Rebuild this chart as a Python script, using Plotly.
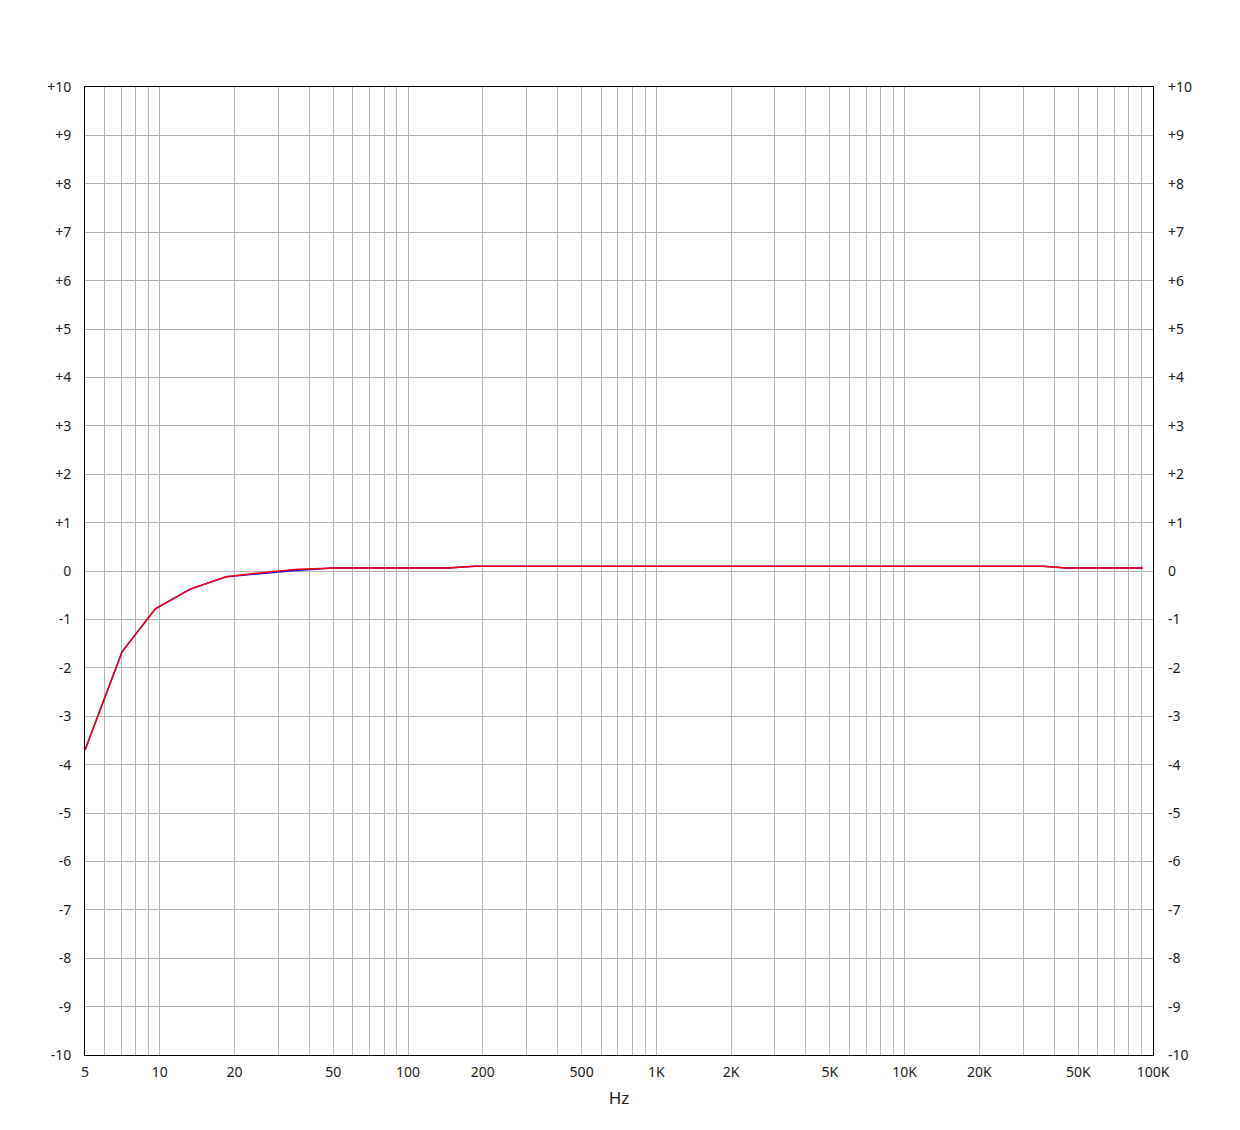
import plotly.graph_objects as go

# response (Hz, dB)
freq_blue = [5, 7.05, 9.6, 13.2, 18.5, 25, 35, 50, 145, 185, 36000, 45000, 91000]
level_blue = [-3.70, -1.67, -0.78, -0.38, -0.12, -0.06, 0.01, 0.06, 0.06, 0.10, 0.10, 0.06, 0.06]

freq_red = [5, 7.05, 9.6, 13.2, 18.5, 25, 35, 50, 145, 185, 36000, 45000, 91000]
level_red = [-3.70, -1.67, -0.78, -0.38, -0.12, -0.04, 0.03, 0.06, 0.06, 0.10, 0.10, 0.06, 0.06]

# grid / tick positions
grid_steps = [1, 2, 3, 4, 5, 6, 7, 8, 9]
decades = [1, 10, 100, 1000, 10000]
x_labels = {5: '5', 10: '10', 20: '20', 50: '50', 100: '100', 200: '200', 500: '500',
            1000: '1K', 2000: '2K', 5000: '5K', 10000: '10K', 20000: '20K',
            50000: '50K', 100000: '100K'}
y_ticks = list(range(-10, 11))

x_vals = [s * d for d in decades for s in grid_steps if 5 <= s * d <= 100000] + [100000]
x_text = [x_labels.get(v, '') for v in x_vals]
y_text = ['+%d' % v if v > 0 else str(v) for v in y_ticks]

fig = go.Figure()
fig.add_trace(go.Scatter(x=freq_blue, y=level_blue, mode='lines',
                         line=dict(color='#0000ff', width=1.5), showlegend=False))
fig.add_trace(go.Scatter(x=freq_red, y=level_red, mode='lines',
                         line=dict(color='#ff0000', width=1.5), showlegend=False))
# invisible copy so the right-hand axis gets drawn
fig.add_trace(go.Scatter(x=freq_red, y=level_red, mode='lines', yaxis='y2',
                         line=dict(color='rgba(0,0,0,0)', width=0),
                         hoverinfo='skip', showlegend=False))

font = dict(family='Noto Sans', size=14, color='#222222')
grid = '#b4b4b4'

fig.update_layout(
    width=1224, height=1114,
    margin=dict(l=77, r=79, t=79, b=67),
    paper_bgcolor='white', plot_bgcolor='white',
    font=font,
    xaxis=dict(type='log', range=[0.69897, 5], tickvals=x_vals, ticktext=x_text,
               showgrid=True, gridcolor=grid, gridwidth=1,
               showline=True, linecolor='black', linewidth=1, mirror=True,
               ticks='', ticklabelstandoff=4, zeroline=False,
               title=dict(text='Hz', standoff=12)),
    yaxis=dict(range=[-10, 10], tickvals=y_ticks, ticktext=y_text,
               showgrid=True, gridcolor=grid, gridwidth=1,
               showline=True, linecolor='black', linewidth=1, mirror=True,
               ticks='', ticklabelstandoff=10, zeroline=False),
    yaxis2=dict(range=[-10, 10], tickvals=y_ticks, ticktext=y_text,
                overlaying='y', side='right', showgrid=False,
                ticks='', ticklabelstandoff=14, zeroline=False, showline=False),
)

fig.write_html("out.html")
